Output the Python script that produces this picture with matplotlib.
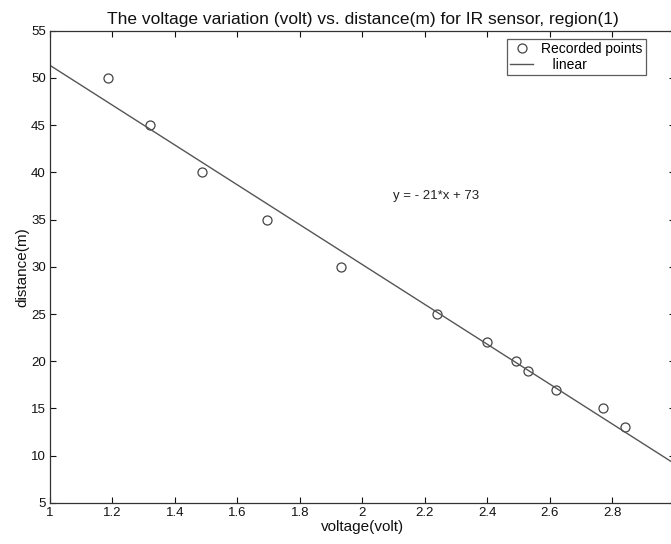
# IR sensor region(1): voltage vs distance with linear fit
import numpy as np
import matplotlib
matplotlib.use("Agg")
import matplotlib.pyplot as plt

plt.rcParams['font.family'] = ['Liberation Sans', 'DejaVu Sans']

# data
voltage = [1.185, 1.32, 1.485, 1.695, 1.93, 2.24, 2.40, 2.49, 2.53, 2.62, 2.77, 2.84]
distance = [50, 45, 40, 35, 30, 25, 22, 20, 19, 17, 15, 13]

x_ticks = [1, 1.2, 1.4, 1.6, 1.8, 2, 2.2, 2.4, 2.6, 2.8]
x_tick_labels = ['1', '1.2', '1.4', '1.6', '1.8', '2', '2.2', '2.4', '2.6', '2.8']
y_ticks = [5, 10, 15, 20, 25, 30, 35, 40, 45, 50, 55]
x_range = (1, 3)
y_range = (5, 55)

# linear fit (line in the figure spans the whole x range)
slope, intercept = np.polyfit(voltage, distance, 1)
x_fit = np.linspace(x_range[0], x_range[1], 2)
y_fit = slope * x_fit + intercept

fig = plt.figure(figsize=(6.71, 5.44), dpi=100)
# axes runs slightly past the right edge, like the cropped scan
ax = fig.add_axes([0.0745, 0.0755, 0.9314, 0.868])

ax.plot(voltage, distance, 'o', markerfacecolor='none', markeredgecolor='#444444',
        markersize=6.5, markeredgewidth=0.9, label='Recorded points')
ax.plot(x_fit, y_fit, '-', color='#555555', linewidth=1.0, label='   linear')

ax.set_xlim(*x_range)
ax.set_ylim(*y_range)
ax.set_xticks(x_ticks)
ax.set_xticklabels(x_tick_labels)
ax.set_yticks(y_ticks)
ax.tick_params(direction='in', length=4, width=0.8, top=True, right=True,
               labelsize=9.5, colors='#111111', pad=3)

for s in ax.spines.values():
    s.set_color('#333333')
    s.set_linewidth(0.9)

ax.set_title('The voltage variation (volt) vs. distance(m) for IR sensor, region(1)',
             fontsize=12.5, color='#111111', pad=5)
ax.set_xlabel('voltage(volt)', fontsize=11, color='#111111', labelpad=1)
ax.set_ylabel('distance(m)', fontsize=11, color='#111111', labelpad=1)

ax.text(2.098, 37.45, 'y = - 21*x + 73', fontsize=9.5, color='#222222',
        ha='left', va='center')

leg = ax.legend(loc='upper right', bbox_to_anchor=(0.954, 0.983), fontsize=10,
                frameon=True, fancybox=False, edgecolor='#333333',
                handlelength=1.65, handletextpad=0.6, borderpad=0.25,
                labelspacing=0.1, borderaxespad=0)
leg.get_frame().set_linewidth(0.9)

plt.savefig('out.png', dpi=100)
